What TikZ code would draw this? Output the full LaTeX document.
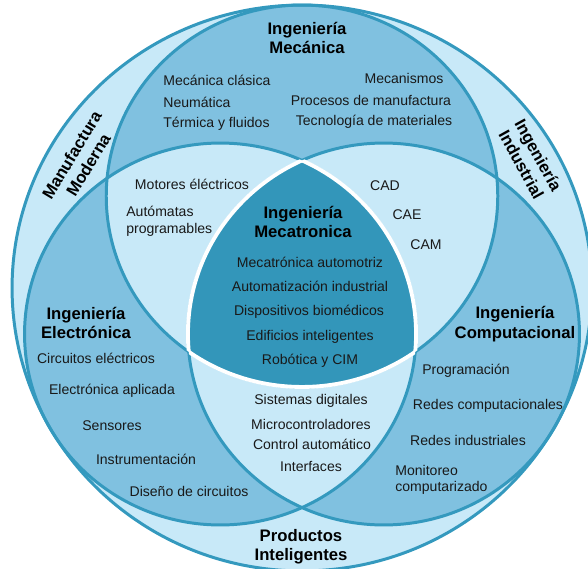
\documentclass[tikz,border=0pt]{standalone}
\usepackage{fontspec}
\setmainfont{Liberation Sans}
\definecolor{lightblue}{RGB}{200,233,248}
\definecolor{midblue}{RGB}{128,193,224}
\definecolor{darkblue}{RGB}{51,150,186}
\definecolor{ringblue}{RGB}{52,153,190}
%% circles (pixel coordinates, y down)
\def\outerring{(302,288) ellipse [x radius=5.8cm, y radius=5.66cm]}
\def\mecring{(302,196) ellipse [x radius=3.916cm, y radius=3.82cm]}
\def\elering{(220.3,334) ellipse [x radius=3.916cm, y radius=3.82cm]}
\def\compring{(383.7,334) ellipse [x radius=3.916cm, y radius=3.82cm]}
\begin{document}
\begin{tikzpicture}[x=0.02cm,y=-0.02cm,
    item/.style={font=\fontsize{8}{9.5}\selectfont,inner sep=0pt,text=black!90},
    title/.style={font=\bfseries\fontsize{9.5}{11}\selectfont,align=center,inner sep=0pt},
    ring/.style={draw=ringblue,line width=1.7pt},
    edge/.style={draw=white,line width=2.2pt}]
    \useasboundingbox (0,0) rectangle (588,568);
    %% outer disk
    \fill[lightblue] \outerring;
    %% three disks
    \fill[midblue] \mecring;
    \fill[midblue] \elering;
    \fill[midblue] \compring;
    %% pairwise overlaps
    \begin{scope}
        \clip \mecring;
        \fill[lightblue] \elering;
        \fill[lightblue] \compring;
    \end{scope}
    \begin{scope}
        \clip \elering;
        \fill[lightblue] \compring;
    \end{scope}
    %% rings
    \draw[ring] \outerring;
    \draw[ring] \mecring;
    \draw[ring] \elering;
    \draw[ring] \compring;
    %% centre
    \begin{scope}
        \clip \mecring;
        \clip \elering;
        \fill[darkblue] \compring;
    \end{scope}
    \begin{scope}
        \clip \mecring; \clip \elering;
        \draw[edge] \compring;
    \end{scope}
    \begin{scope}
        \clip \mecring; \clip \compring;
        \draw[edge] \elering;
    \end{scope}
    \begin{scope}
        \clip \elering; \clip \compring;
        \draw[edge] \mecring;
    \end{scope}
    %% titles
    \node[title] (mec) at (307,38) {Ingeniería\\Mecánica};
    \node[title] (ele) at (86,323) {Ingeniería\\Electrónica};
    \node[title] (comp) at (515,324) {Ingeniería\\Computacional};
    \node[title] (mecat) at (303,222) {Ingeniería\\Mecatronica};
    \node[title] (prod) at (301,547) {Productos\\Inteligentes};
    \node[title,rotate=59] (manuf) at (80,160) {Manufactura\\Moderna};
    \node[title,rotate=-61] (indus) at (530,160) {Ingeniería\\Industrial};
    %% mecanica
    \node[item,anchor=west] (clasica) at (163,80) {Mecánica clásica};
    \node[item,anchor=west] (neuma) at (163,102) {Neumática};
    \node[item,anchor=west] (termica) at (163,124) {Térmica y fluidos};
    \node[item] (mecanismos) at (404,78) {Mecanismos};
    \node[item] (procesos) at (371,100) {Procesos de manufactura};
    \node[item] (tecno) at (374,122) {Tecnología de materiales};
    %% mecanica + electronica
    \node[item] (motores) at (192,184) {Motores éléctricos};
    \node[item,anchor=west,align=left] (automatas) at (126,221) {Autómatas\\programables};
    %% mecanica + computacional
    \node[item] (cad) at (385,186) {CAD};
    \node[item] (cae) at (407,215) {CAE};
    \node[item] (cam) at (426,245) {CAM};
    %% mecatronica
    \node[item] (automotriz) at (310,262) {Mecatrónica automotriz};
    \node[item] (autoind) at (310,286) {Automatización industrial};
    \node[item] (biomed) at (309,312) {Dispositivos biomédicos};
    \node[item] (edificios) at (310,337) {Edificios inteligentes};
    \node[item] (robotica) at (310,361) {Robótica y CIM};
    %% electronica
    \node[item] (circuitos) at (96,358) {Circuitos eléctricos};
    \node[item] (aplicada) at (112,391) {Electrónica aplicada};
    \node[item] (sensores) at (112,426) {Sensores};
    \node[item] (instru) at (146,459) {Instrumentación};
    \node[item] (diseno) at (189,491) {Diseño de circuitos};
    %% electronica + computacional
    \node[item] (sistemas) at (311,401) {Sistemas digitales};
    \node[item] (micro) at (311,424) {Microcontroladores};
    \node[item] (control) at (312,444) {Control automático};
    \node[item] (interfaces) at (311,466) {Interfaces};
    %% computacional
    \node[item] (progra) at (466,371) {Programación};
    \node[item] (redescomp) at (488,406) {Redes computacionales};
    \node[item] (redesind) at (468,440) {Redes industriales};
    \node[item,anchor=west,align=left] (monitoreo) at (395,480) {Monitoreo\\computarizado};
\end{tikzpicture}
\end{document}
